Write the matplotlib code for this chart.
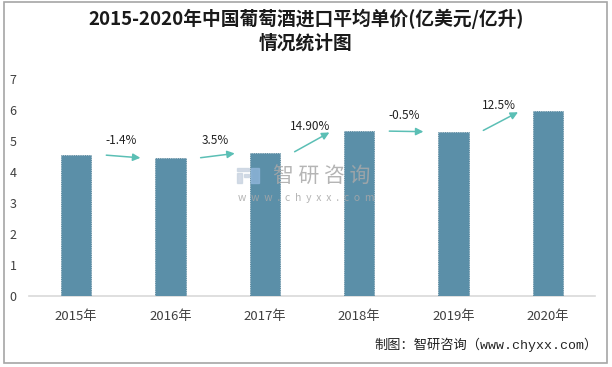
import matplotlib
matplotlib.use("Agg")
import matplotlib.pyplot as plt
from matplotlib.patches import FancyArrowPatch, Rectangle

plt.rcParams["font.family"] = ["Noto Sans CJK SC", "DejaVu Sans"]

# =========================
# DATA
# =========================
years = ["2015年", "2016年", "2017年", "2018年", "2019年", "2020年"]
prices = [4.55, 4.45, 4.61, 5.32, 5.30, 5.97]
growth_labels = ["-1.4%", "3.5%", "14.90%", "-0.5%", "12.5%"]
y_ticks = [0, 1, 2, 3, 4, 5, 6, 7]

TITLE = "2015-2020年中国葡萄酒进口平均单价(亿美元/亿升)\n情况统计图"
SOURCE = "制图：智研咨询（www.chyxx.com）"

BAR_COLOR = "#5B8FA8"
ARROW_COLOR = "#5BBFB5"
TEXT_COLOR = "#404040"

W, H = 612, 367


def fx(px):
    return px / W


def fy(py):
    return 1 - py / H


fig = plt.figure(figsize=(W / 100, H / 100), dpi=100)

# outer frame
fig.add_artist(Rectangle((fx(4), fy(363)), fx(603), (363 - 2) / H,
                         transform=fig.transFigure, fill=False,
                         edgecolor="#A6A6A6", linewidth=1.2))

ax = fig.add_axes([fx(29), fy(296), fx(566), (296 - 79) / H])

x = list(range(len(years)))
ax.bar(x, prices, width=0.32, color=BAR_COLOR, edgecolor="#4A7A90",
       linewidth=0.6, linestyle=":", zorder=3)

# growth arrows between bars
for i, lab in enumerate(growth_labels):
    y0, y1 = prices[i], prices[i + 1]
    arr = FancyArrowPatch((i + 0.29, y0), (i + 0.71, y1),
                          arrowstyle="-|>", mutation_scale=11,
                          color=ARROW_COLOR, linewidth=1.1, zorder=4)
    ax.add_patch(arr)
    ax.text(i + 0.48, (y0 + y1) / 2 + 0.5, lab, ha="center", va="center",
            fontsize=8.5, color="#222222")

ax.set_xlim(-0.5, 5.5)
ax.set_ylim(0, 7)
ax.set_xticks(x)
ax.set_xticklabels(years, fontsize=9.5, color=TEXT_COLOR)
ax.set_yticks(y_ticks)
ax.set_yticklabels([str(v) for v in y_ticks], fontsize=9, color=TEXT_COLOR)
ax.tick_params(axis="x", length=0, pad=10)
ax.tick_params(axis="y", length=0, pad=9)
for s in ["left", "right", "top"]:
    ax.spines[s].set_visible(False)
ax.spines["bottom"].set_color("#D9D9D9")
ax.spines["bottom"].set_linewidth(1.2)

# watermark
wm_gray = "#A8A8A8"
fig.text(fx(322), fy(176), "智 研 咨 询", fontsize=15, color=wm_gray,
         ha="center", va="center", alpha=0.85, zorder=5)
fig.text(fx(306), fy(198), "w  w  w  .  c  h  y  x  x  .  c  o  m", fontsize=7.5,
         color=wm_gray, ha="center", va="center", alpha=0.85, zorder=5)
# logo blocks
for (lx, ly, lw, lh, c) in [(237, 168, 12, 3, "#C8D3E0"), (237, 173, 5, 10, "#C8D3E0"),
                            (244, 174, 5, 3, "#C8D3E0"), (251, 168, 8, 15, "#8FB5DA")]:
    fig.add_artist(Rectangle((fx(lx), fy(ly + lh)), lw / W, lh / H,
                             transform=fig.transFigure, color=c, alpha=0.8, zorder=5))

fig.text(fx(306), fy(9), TITLE, fontsize=13.5, fontweight="bold", color="#1A1A1A",
         ha="center", va="top", linespacing=1.3)
fig.text(fx(598), fy(345), SOURCE, fontsize=9.5, color="#222222",
         family=["Liberation Mono", "Noto Sans CJK SC"],
         ha="right", va="center")

fig.savefig("out.png", dpi=100)
